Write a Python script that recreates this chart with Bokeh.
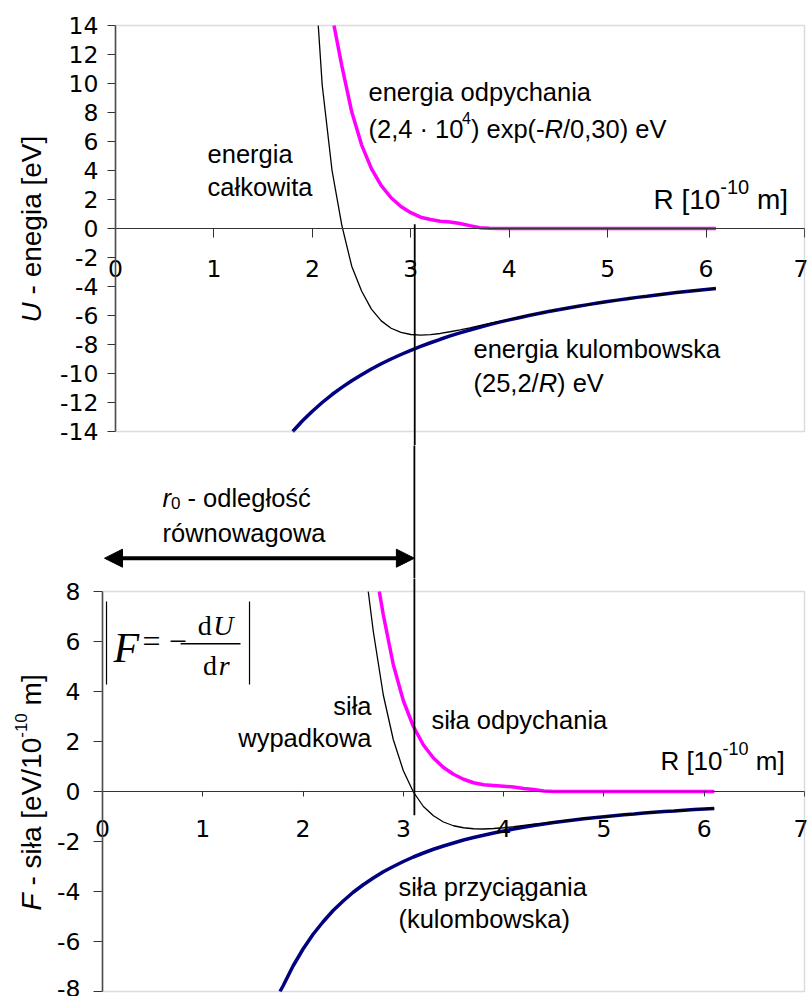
import math
from bokeh.plotting import figure
from bokeh.layouts import column
from bokeh.models import (Range1d, FixedTicker, Label, Arrow, NormalHead,
                          PrintfTickFormatter, BoxAnnotation)
from bokeh.embed import file_html
from bokeh.resources import INLINE

# ---------------- data ----------------
# Each curve starts where it enters the plotted box (value read at the box edge).

# energy [eV]
R_U_rep = [2.22, 2.3, 2.4, 2.5, 2.6, 2.7, 2.8, 2.9, 3.0, 3.1, 3.2, 3.3, 3.4, 3.5,
           3.6, 3.7, 3.8, 3.9, 4.0, 4.1, 4.2, 4.3, 4.4, 4.5, 4.6, 4.7, 4.8, 4.9,
           5.0, 5.1, 5.2, 5.3, 5.4, 5.5, 5.6, 5.7, 5.8, 5.9, 6.0, 6.1]
U_rep = [14.0, 11.2, 8.05, 5.77, 4.13, 2.96, 2.12, 1.52, 1.09, 0.78, 0.62, 0.50,
         0.45, 0.35, 0.20, 0.06, 0.02, 0.0, 0.0, 0.0, 0.0, 0.0, 0.0, 0.0, 0.0,
         0.0, 0.0, 0.0, 0.0, 0.0, 0.0, 0.0, 0.0, 0.0, 0.0, 0.0, 0.0, 0.0, 0.0, 0.0]

R_U_coul = [1.8, 1.9, 2.0, 2.1, 2.2, 2.3, 2.4, 2.5, 2.6, 2.7, 2.8, 2.9, 3.0, 3.1,
            3.2, 3.3, 3.4, 3.5, 3.6, 3.7, 3.8, 3.9, 4.0, 4.1, 4.2, 4.3, 4.4, 4.5,
            4.6, 4.7, 4.8, 4.9, 5.0, 5.1, 5.2, 5.3, 5.4, 5.5, 5.6, 5.7, 5.8, 5.9,
            6.0, 6.1]
U_coul = [-14.00, -13.26, -12.60, -12.00, -11.45, -10.96, -10.50, -10.08, -9.69,
          -9.33, -9.00, -8.69, -8.40, -8.13, -7.88, -7.64, -7.41, -7.20, -7.00,
          -6.81, -6.63, -6.46, -6.30, -6.15, -6.00, -5.86, -5.73, -5.60, -5.48,
          -5.36, -5.25, -5.14, -5.04, -4.94, -4.85, -4.75, -4.67, -4.58, -4.50,
          -4.42, -4.34, -4.27, -4.20, -4.13]

R_U_tot = [2.06, 2.1, 2.2, 2.3, 2.4, 2.5, 2.6, 2.7, 2.8, 2.9, 3.0, 3.1, 3.2, 3.3,
           3.4, 3.5, 3.6, 3.7, 3.8, 3.9, 4.0, 4.1, 4.2, 4.3, 4.4, 4.5, 4.6, 4.7,
           4.8, 4.9, 5.0, 5.1, 5.2, 5.3, 5.4, 5.5, 5.6, 5.7, 5.8, 5.9, 6.0, 6.1]
U_tot = [14.0, 9.9, 4.0, 0.2, -2.6, -4.31, -5.56, -6.37, -6.88, -7.17, -7.31,
         -7.35, -7.32, -7.24, -7.12, -6.99, -6.85, -6.70, -6.55, -6.41, -6.26,
         -6.12, -5.98, -5.85, -5.72, -5.59, -5.48, -5.36, -5.25, -5.14, -5.04,
         -4.94, -4.85, -4.75, -4.67, -4.58, -4.50, -4.42, -4.34, -4.27, -4.20, -4.13]

# force [eV / 1e-10 m]
R_F_rep = [2.76, 2.8, 2.9, 3.0, 3.1, 3.2, 3.3, 3.4, 3.5, 3.6, 3.7, 3.8, 3.9, 4.0,
           4.1, 4.2, 4.3, 4.4, 4.5, 4.6, 4.7, 4.8, 4.9, 5.0, 5.1, 5.2, 5.3, 5.4,
           5.5, 5.6, 5.7, 5.8, 5.9, 6.0, 6.1]
F_rep = [8.0, 7.07, 5.07, 3.63, 2.60, 1.86, 1.34, 0.96, 0.69, 0.49, 0.35, 0.27,
         0.24, 0.21, 0.18, 0.12, 0.08, 0.02, 0.0, 0.0, 0.0, 0.0, 0.0, 0.0, 0.0,
         0.0, 0.0, 0.0, 0.0, 0.0, 0.0, 0.0, 0.0, 0.0, 0.0]

R_F_coul = [1.77, 1.8, 1.9, 2.0, 2.1, 2.2, 2.3, 2.4, 2.5, 2.6, 2.7, 2.8, 2.9, 3.0,
            3.1, 3.2, 3.3, 3.4, 3.5, 3.6, 3.7, 3.8, 3.9, 4.0, 4.1, 4.2, 4.3, 4.4,
            4.5, 4.6, 4.7, 4.8, 4.9, 5.0, 5.1, 5.2, 5.3, 5.4, 5.5, 5.6, 5.7, 5.8,
            5.9, 6.0, 6.1]
F_coul = [-8.0, -7.78, -6.98, -6.30, -5.71, -5.21, -4.76, -4.38, -4.03, -3.73,
          -3.46, -3.21, -3.00, -2.80, -2.62, -2.46, -2.31, -2.18, -2.06, -1.94,
          -1.84, -1.75, -1.66, -1.58, -1.50, -1.43, -1.36, -1.30, -1.24, -1.19,
          -1.14, -1.09, -1.05, -1.01, -0.97, -0.93, -0.90, -0.86, -0.83, -0.80,
          -0.78, -0.75, -0.72, -0.70, -0.68]

R_F_tot = [2.65, 2.7, 2.8, 2.9, 3.0, 3.1, 3.2, 3.3, 3.4, 3.5, 3.6, 3.7, 3.8, 3.9,
           4.0, 4.1, 4.2, 4.3, 4.4, 4.5, 4.6, 4.7, 4.8, 4.9, 5.0, 5.1, 5.2, 5.3,
           5.4, 5.5, 5.6, 5.7, 5.8, 5.9, 6.0, 6.1]
F_tot = [8.0, 6.41, 3.86, 2.07, 0.83, -0.02, -0.60, -0.97, -1.22, -1.37, -1.45,
         -1.49, -1.50, -1.48, -1.45, -1.41, -1.36, -1.31, -1.27, -1.22, -1.17,
         -1.13, -1.08, -1.04, -1.01, -0.97, -0.93, -0.90, -0.86, -0.83, -0.80,
         -0.78, -0.75, -0.72, -0.70, -0.68]

X_TICKS = [0, 1, 2, 3, 4, 5, 6, 7]
U_TICKS = [-14, -12, -10, -8, -6, -4, -2, 0, 2, 4, 6, 8, 10, 12, 14]
F_TICKS = [-8, -6, -4, -2, 0, 2, 4, 6, 8]
X_LIM = (0, 7)
U_LIM = (-14, 14)
F_LIM = (-8, 8)

R0_TOP = 3.04      # equilibrium-distance marker, top panel
R0_BOT = 3.11      # equilibrium-distance marker, bottom panel

# ---------------- styling helpers ----------------
FONT = "Liberation Sans"
TICKFONT = "DejaVu Sans"
SERIF = "Liberation Serif"
MAGENTA = "#FF00FF"
NAVY = "#000080"
FRAME = "#8c8c8c"
BASEFIX = 0.31      # empirical baseline correction (fraction of font size)

AW = {' ': 278, '(': 333, ')': 333, ',': 278, '-': 333, '.': 278, '/': 278,
      '[': 278, ']': 278, '\u00b7': 278, '=': 564, '\u2212': 564,
      'a': 556, 'b': 556, 'c': 500, 'd': 556, 'e': 556, 'f': 278, 'g': 556,
      'h': 556, 'i': 222, 'j': 222, 'k': 500, 'l': 222, 'm': 833, 'n': 556,
      'o': 556, 'p': 556, 'q': 556, 'r': 333, 's': 500, 't': 278, 'u': 556,
      'v': 500, 'w': 722, 'x': 500, 'y': 500, 'z': 500, '\u0142': 222,
      '\u015b': 500, '\u0107': 500, '\u00f3': 556, '\u0105': 556,
      'R': 722, 'U': 722, 'F': 611, 'V': 667}


def tw(s, size):
    return sum(AW.get(c, 556) for c in s) * size / 1000.0


def pieces(fig, x, y, parts, align="left", angle=0.0, font=FONT):
    """parts: list of (text, size_px, style, rise_px)"""
    total = sum(tw(t, sz) for t, sz, st, r in parts)
    off = 0.0 if align == "left" else (-total if align == "right" else -total / 2)
    base = BASEFIX * max(sz for t, sz, st, r in parts)
    for t, sz, st, rise in parts:
        lead = len(t) - len(t.lstrip(' '))
        core = t.strip(' ')
        trail = len(t) - len(t.rstrip(' '))
        off += lead * AW[' '] * sz / 1000.0
        if angle == 0:
            xo, yo = off, rise + base
        else:
            xo, yo = -(rise + base), off
        fig.add_layout(Label(x=x, y=y, x_offset=xo, y_offset=yo, text=core,
                             angle=angle, text_font=font,
                             text_font_size=f"{sz}px", text_font_style=st,
                             text_align="left", text_baseline="alphabetic",
                             text_color="black"))
        off += tw(core, sz) + trail * AW[' '] * sz / 1000.0


def panel(width, height, frame_left, frame_top, frame_bottom, ylim, yticks,
          ytick_out, ystand, xtick_out, xstand):
    """Whole canvas is the frame; the visible plot box is drawn explicitly."""
    sx = (width - frame_left - 4) / (X_LIM[1] - X_LIM[0])
    sy = (height - frame_top - frame_bottom) / (ylim[1] - ylim[0])
    xr = Range1d(X_LIM[0] - frame_left / sx, X_LIM[1] + 4 / sx)
    yr = Range1d(ylim[0] - frame_bottom / sy, ylim[1] + frame_top / sy)
    p = figure(width=width, height=height, x_range=xr, y_range=yr,
               output_backend="svg", toolbar_location=None,
               min_border=0, min_border_left=0, min_border_right=0,
               min_border_top=0, min_border_bottom=0)
    p.outline_line_color = None
    p.grid.visible = False
    p.xaxis.fixed_location = 0
    p.yaxis.fixed_location = 0
    p.xaxis.bounds = X_LIM
    p.yaxis.bounds = ylim
    p.xaxis.ticker = FixedTicker(ticks=X_TICKS)
    p.yaxis.ticker = FixedTicker(ticks=yticks)
    p.xaxis.formatter = PrintfTickFormatter(format="%d")
    p.yaxis.formatter = PrintfTickFormatter(format="%d")
    for ax in (p.xaxis, p.yaxis):
        ax.minor_tick_line_color = None
        ax.major_tick_in = 0
        ax.major_label_text_font = TICKFONT
        ax.major_label_text_font_size = "23.5px"
        ax.major_label_text_color = "black"
        ax.major_tick_line_color = "#333333"
    p.yaxis.major_tick_out = ytick_out
    p.yaxis.major_label_standoff = ystand
    p.yaxis.axis_line_color = "#333333"
    p.yaxis.axis_line_width = 1.5
    p.xaxis.major_tick_out = xtick_out
    p.xaxis.major_label_standoff = xstand
    p.xaxis.axis_line_color = "#333333"
    p.xaxis.axis_line_width = 1.2
    p.add_layout(BoxAnnotation(left=X_LIM[0], right=X_LIM[1], bottom=ylim[0],
                               top=ylim[1], fill_color=None, fill_alpha=0,
                               line_color=FRAME, line_width=1.5))
    return p


# ---------------- top panel: energy ----------------
top = panel(808, 445, 115, 25, 14, U_LIM, U_TICKS, 8, 9, 9, 22)

top.line(R_U_rep, U_rep, line_color=MAGENTA, line_width=3.5)
top.line(R_U_coul, U_coul, line_color=NAVY, line_width=3.5)
top.line(R_U_tot, U_tot, line_color="black", line_width=1.3)
top.add_layout(Arrow(end=None, start=None, x_start=R0_TOP, y_start=0.3,
                     x_end=R0_TOP, y_end=-16, line_color="black", line_width=1.8))

pieces(top, 2.57, 8.90, [("energia odpychania", 25.5, "normal", 0)])
pieces(top, 2.57, 6.30, [("(2,4 \u00b7 10", 25.5, "normal", 0),
                         ("4", 16, "normal", 11),
                         (") exp(-", 25.5, "normal", 0),
                         ("R", 25.5, "italic", 0),
                         ("/0,30) eV", 25.5, "normal", 0)])
pieces(top, 0.935, 4.62, [("energia", 25.5, "normal", 0)])
pieces(top, 0.935, 2.34, [("ca\u0142kowita", 25.5, "normal", 0)])
pieces(top, 5.465, 1.38, [("R [10", 28, "normal", 0), ("-10", 20, "normal", 13),
                          (" m]", 28, "normal", 0)])
pieces(top, 3.637, -8.88, [("energia kulombowska", 25.5, "normal", 0)])
pieces(top, 3.637, -11.22, [("(25,2/", 25.5, "normal", 0), ("R", 25.5, "italic", 0),
                            (") eV", 25.5, "normal", 0)])
pieces(top, -0.762, -6.48, [("U", 28, "italic", 0), (" - enegia [eV]", 28, "normal", 0)],
       angle=math.pi / 2)

# ---------------- middle strip: r0 arrow ----------------
mid = figure(width=808, height=133, x_range=Range1d(0, 7), y_range=Range1d(0, 133),
             output_backend="svg", toolbar_location=None,
             x_axis_location=None, y_axis_location=None,
             min_border_left=102, min_border_right=4, min_border_top=0,
             min_border_bottom=0)
mid.outline_line_color = None
mid.grid.visible = False
mid.add_layout(Arrow(end=None, start=None, x_start=R0_BOT, y_start=-5,
                     x_end=R0_BOT, y_end=140, line_color="black", line_width=1.8))
mid.add_layout(Arrow(start=NormalHead(size=18, fill_color="black", line_color="black"),
                     end=NormalHead(size=18, fill_color="black", line_color="black"),
                     x_start=0.02, y_start=20.3, x_end=R0_BOT, y_end=20.3,
                     line_width=4, line_color="black"))
pieces(mid, 0.598, 73, [("r", 25.5, "italic", 0), ("0", 17, "normal", -5),
                        (" - odleg\u0142o\u015b\u0107", 25.5, "normal", 0)])
pieces(mid, 0.598, 37.3, [("r\u00f3wnowagowa", 25.5, "normal", 0)])

# ---------------- bottom panel: force ----------------
bot = panel(808, 418, 102, 13, 5, F_LIM, F_TICKS, 9, 13, 5, 23)

bot.line(R_F_rep, F_rep, line_color=MAGENTA, line_width=3.5)
bot.line(R_F_coul, F_coul, line_color=NAVY, line_width=3.5)
bot.line(R_F_tot, F_tot, line_color="black", line_width=1.3)
bot.add_layout(Arrow(end=None, start=None, x_start=R0_BOT, y_start=9,
                     x_end=R0_BOT, y_end=-0.95, line_color="black", line_width=1.8))

# formula |F = -dU/dr|
bot.segment(x0=[0.04, 1.466], y0=[7.6, 7.6], x1=[0.04, 1.466], y1=[4.28, 4.28],
            line_color="black", line_width=1.2)
bot.segment(x0=[0.779], y0=[5.908], x1=[1.376], y1=[5.908], line_color="black",
            line_width=1.5)
pieces(bot, 0.11, 5.2, [("F", 42, "italic", 0)], font=SERIF)
pieces(bot, 0.40, 5.62, [("= \u2212", 32, "normal", 0)], font=SERIF)
pieces(bot, 1.127, 6.308, [("d", 28, "normal", 0), ("U", 28, "italic", 0)],
       align="center", font=SERIF)
pieces(bot, 1.127, 4.708, [("d", 28, "normal", 0), ("r", 28, "italic", 0)],
       align="center", font=SERIF)

pieces(bot, 2.682, 3.11, [("si\u0142a", 25.5, "normal", 0)], align="right")
pieces(bot, 2.682, 1.84, [("wypadkowa", 25.5, "normal", 0)], align="right")
pieces(bot, 3.28, 2.55, [("si\u0142a odpychania", 25.5, "normal", 0)])
pieces(bot, 5.563, 0.91, [("R [10", 26, "normal", 0), ("-10", 18, "normal", 12),
                          (" m]", 26, "normal", 0)])
pieces(bot, 2.951, -4.12, [("si\u0142a przyci\u0105gania", 25.5, "normal", 0)])
pieces(bot, 2.951, -5.43, [("(kulombowska)", 25.5, "normal", 0)])
pieces(bot, -0.618, -4.76, [("F", 28, "italic", 0), (" - si\u0142a [eV/10", 28, "normal", 0),
                            ("-10", 17, "normal", 11), (" m]", 28, "normal", 0)],
       angle=math.pi / 2)

for f in (top, mid, bot):
    try:
        f.frame_align = False
    except Exception:
        pass

layout = column(top, mid, bot, spacing=0)
open("out.html", "w").write(file_html(layout, INLINE))
